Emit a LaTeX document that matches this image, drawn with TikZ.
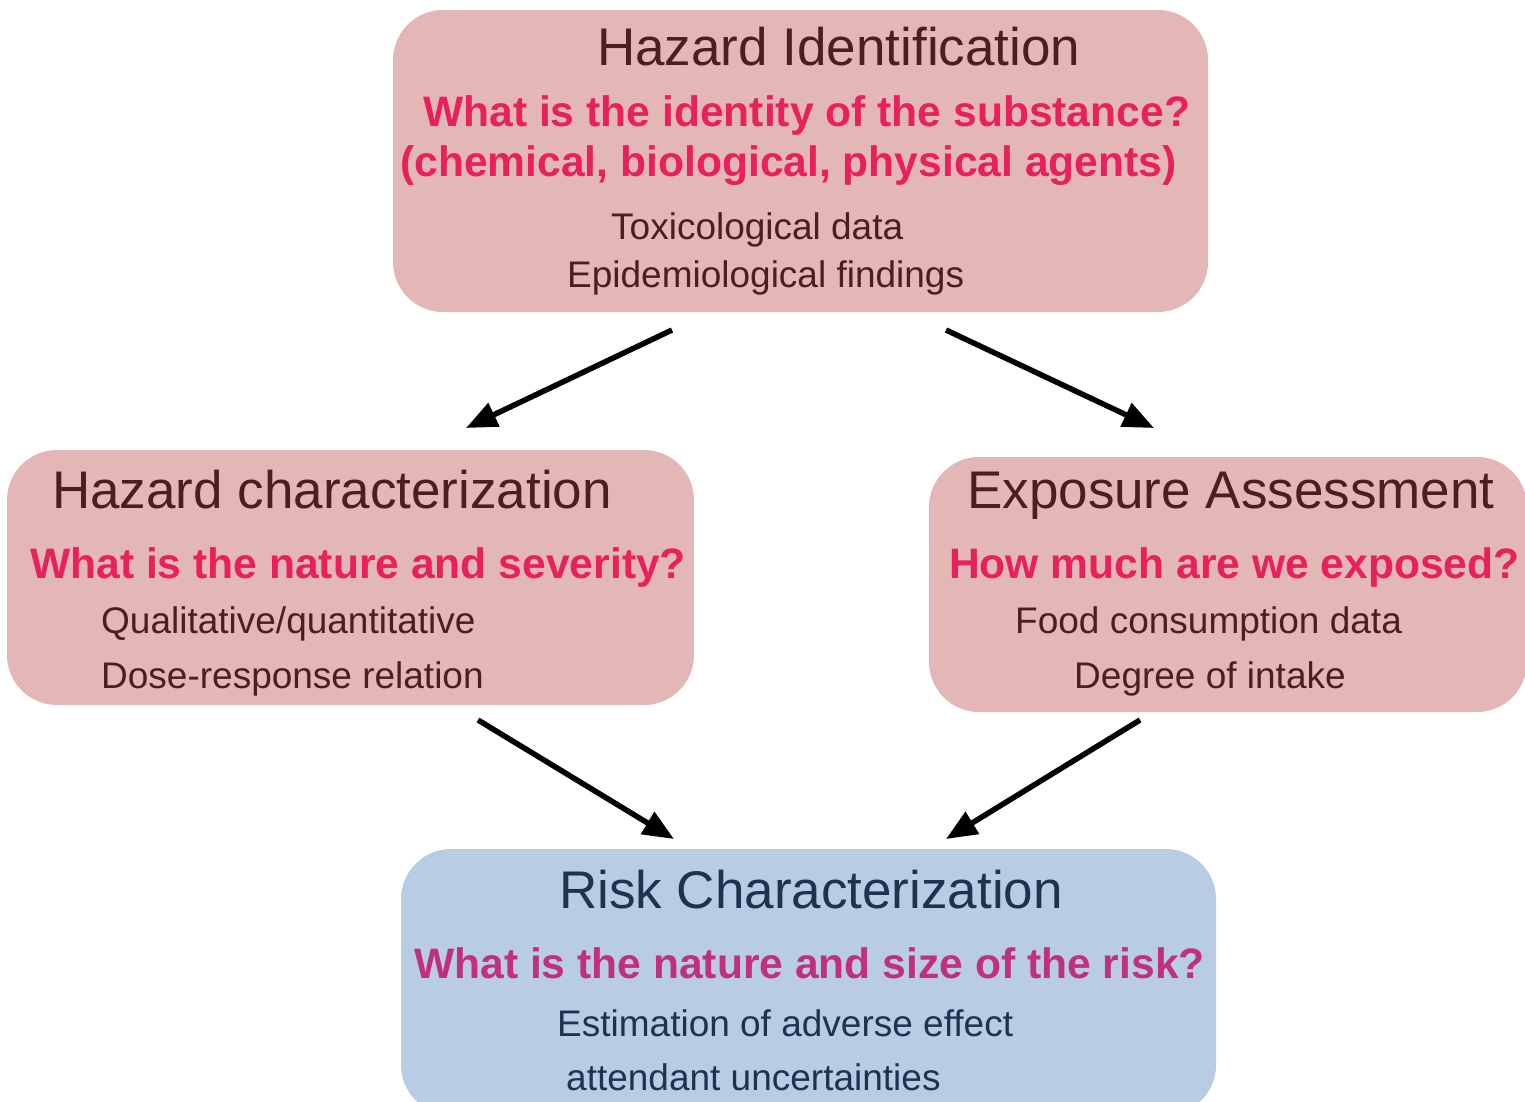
\documentclass[tikz,border=0pt]{standalone}
\usepackage{fontspec}
\setmainfont{Liberation Sans}
\usetikzlibrary{arrows.meta}
\definecolor{pinkfill}{HTML}{E4B7B7}
\definecolor{bluefill}{HTML}{B8CCE4}
\definecolor{brown}{HTML}{4A1F23}
\definecolor{qred}{HTML}{E8205C}
\definecolor{navy}{HTML}{1F324F}
\definecolor{qmag}{HTML}{C0307F}
\tikzset{
  box/.style={draw=none, rounded corners=50pt, inner sep=0pt},
  pinkbox/.style={box, fill=pinkfill},
  bluebox/.style={box, fill=bluefill},
  txt/.style={inner sep=0pt, anchor=base west},
  ttl/.style={txt, font=\fontsize{53}{60}\selectfont},
  qst/.style={txt, font=\fontsize{42.6}{48}\selectfont\bfseries},
  bdy/.style={txt, font=\fontsize{37}{44}\selectfont},
  arr/.style={line width=5.5pt, -{Triangle[length=31pt,width=25pt]}}
}
\begin{document}
\begin{tikzpicture}[x=1pt,y=-1pt]
\useasboundingbox (0,0) rectangle (1525,1101);
% boxes
\node[pinkbox, minimum width=815pt, minimum height=302pt] (hi) at (800.5,161) {};
\node[pinkbox, minimum width=687pt, minimum height=255pt] (hc) at (350.5,577.5) {};
\node[pinkbox, minimum width=598pt, minimum height=255pt] (ea) at (1228,584.5) {};
\node[bluebox, minimum width=815pt, minimum height=266pt] (rc) at (808.5,982) {};
% box 1 text
\node[ttl, text=brown] (hiT) at (597,65) {Hazard Identification};
\node[qst, text=qred] (hiQ1) at (423,126) {What is the identity of the substance?};
\node[qst, text=qred] (hiQ2) at (400,176) {(chemical, biological, physical agents)};
\node[bdy, text=brown] (hiB1) at (611,239) {Toxicological data};
\node[bdy, text=brown] (hiB2) at (567,287) {Epidemiological findings};
% box 2 text
\node[ttl, text=brown] (hcT) at (52,508) {Hazard characterization};
\node[qst, text=qred] (hcQ) at (30,578) {What is the nature and severity?};
\node[bdy, text=brown] (hcB1) at (101,633) {Qualitative/quantitative};
\node[bdy, text=brown] (hcB2) at (101,688) {Dose-response relation};
% box 3 text
\node[ttl, text=brown] (eaT) at (967,508) {Exposure Assessment};
\node[qst, text=qred] (eaQ) at (949,578) {How much are we exposed?};
\node[bdy, text=brown] (eaB1) at (1015,633) {Food consumption data};
\node[bdy, text=brown] (eaB2) at (1074,688) {Degree of intake};
% box 4 text
\node[ttl, text=navy] (rcT) at (559,908) {Risk Characterization};
\node[qst, text=qmag] (rcQ) at (414,978) {What is the nature and size of the risk?};
\node[bdy, text=navy] (rcB1) at (557,1036) {Estimation of adverse effect};
\node[bdy, text=navy] (rcB2) at (566,1090) {attendant uncertainties};
% arrow endpoints
\coordinate (a1s) at (672,330);
\coordinate (a1e) at (466,428);
\coordinate (a2s) at (946,330);
\coordinate (a2e) at (1154,428);
\coordinate (a3s) at (478,720);
\coordinate (a3e) at (674,839);
\coordinate (a4s) at (1140,720);
\coordinate (a4e) at (946,839);
\draw[arr] (a1s) -- (a1e);
\draw[arr] (a2s) -- (a2e);
\draw[arr] (a3s) -- (a3e);
\draw[arr] (a4s) -- (a4e);
\end{tikzpicture}
\end{document}
